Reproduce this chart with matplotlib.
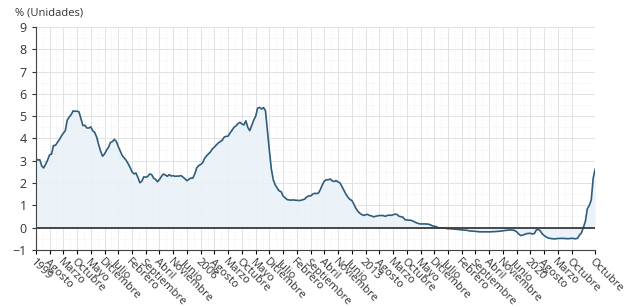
import numpy as np
import matplotlib
matplotlib.use("Agg")
import matplotlib.pyplot as plt
from matplotlib.ticker import MultipleLocator

plt.rcParams['font.family'] = ['Open Sans', 'DejaVu Sans']

# Euribor 12 meses, media mensual, enero 1999 - octubre 2022 (%)
valores = [
    3.095, 3.033, 3.047, 2.768, 2.678, 2.843, 3.036, 3.264, 3.299, 3.684, 3.689, 3.826,  # 1999
    3.948, 4.108, 4.236, 4.347, 4.824, 4.961, 5.065, 5.239, 5.219, 5.224, 5.193, 4.881,  # 2000
    4.574, 4.593, 4.470, 4.467, 4.521, 4.340, 4.273, 4.058, 3.722, 3.433, 3.203, 3.304,  # 2001
    3.475, 3.598, 3.818, 3.859, 3.960, 3.868, 3.637, 3.441, 3.236, 3.126, 3.022, 2.872,  # 2002
    2.705, 2.504, 2.411, 2.447, 2.252, 2.014, 2.080, 2.279, 2.258, 2.295, 2.406, 2.381,  # 2003
    2.218, 2.163, 2.055, 2.163, 2.297, 2.404, 2.361, 2.302, 2.377, 2.316, 2.328, 2.301,  # 2004
    2.312, 2.310, 2.335, 2.265, 2.193, 2.103, 2.168, 2.223, 2.221, 2.414, 2.684, 2.783,  # 2005
    2.833, 2.914, 3.109, 3.221, 3.308, 3.401, 3.539, 3.615, 3.715, 3.799, 3.864, 3.921,  # 2006
    4.064, 4.094, 4.106, 4.253, 4.373, 4.505, 4.564, 4.666, 4.725, 4.647, 4.607, 4.793,  # 2007
    4.498, 4.349, 4.590, 4.820, 4.994, 5.361, 5.393, 5.323, 5.384, 5.248, 4.350, 3.452,  # 2008
    2.622, 2.135, 1.909, 1.771, 1.644, 1.610, 1.412, 1.334, 1.261, 1.243, 1.231, 1.242,  # 2009
    1.232, 1.225, 1.215, 1.225, 1.249, 1.281, 1.373, 1.421, 1.420, 1.495, 1.540, 1.526,  # 2010
    1.550, 1.714, 1.924, 2.086, 2.147, 2.144, 2.183, 2.097, 2.067, 2.110, 2.044, 2.004,  # 2011
    1.837, 1.678, 1.499, 1.368, 1.266, 1.219, 1.061, 0.877, 0.740, 0.650, 0.588, 0.549,  # 2012
    0.575, 0.594, 0.545, 0.528, 0.484, 0.507, 0.525, 0.542, 0.543, 0.541, 0.506, 0.543,  # 2013
    0.562, 0.549, 0.577, 0.604, 0.592, 0.513, 0.488, 0.469, 0.362, 0.338, 0.335, 0.329,  # 2014
    0.298, 0.255, 0.212, 0.180, 0.165, 0.163, 0.167, 0.161, 0.154, 0.128, 0.079, 0.059,  # 2015
    0.042, -0.008, -0.012, -0.010, -0.013, -0.028, -0.056, -0.048, -0.057, -0.069, -0.074, -0.080,  # 2016
    -0.095, -0.106, -0.110, -0.119, -0.127, -0.149, -0.154, -0.156, -0.168, -0.180, -0.189, -0.190,  # 2017
    -0.189, -0.191, -0.191, -0.190, -0.188, -0.181, -0.180, -0.169, -0.166, -0.154, -0.147, -0.129,  # 2018
    -0.116, -0.108, -0.109, -0.112, -0.134, -0.190, -0.283, -0.356, -0.339, -0.304, -0.272, -0.261,  # 2019
    -0.253, -0.288, -0.266, -0.108, -0.081, -0.147, -0.279, -0.358, -0.415, -0.466, -0.481, -0.497,  # 2020
    -0.505, -0.501, -0.487, -0.484, -0.481, -0.484, -0.491, -0.498, -0.492, -0.477, -0.487, -0.502,  # 2021
    -0.477, -0.335, -0.237, 0.013, 0.287, 0.852, 0.992, 1.249, 2.233, 2.629,  # 2022
]

etiquetas = ['1999', 'Agosto', 'Marzo', 'Octubre', 'Mayo', 'Diciembre', 'Julio',
             'Febrero', 'Septiembre', 'Abril', 'Noviembre', 'Junio',
             '2006', 'Agosto', 'Marzo', 'Octubre', 'Mayo', 'Diciembre', 'Julio',
             'Febrero', 'Septiembre', 'Abril', 'Noviembre', 'Junio',
             '2013', 'Agosto', 'Marzo', 'Octubre', 'Mayo', 'Diciembre', 'Julio',
             'Febrero', 'Septiembre', 'Abril', 'Noviembre', 'Junio',
             '2020', 'Agosto', 'Marzo', 'Octubre', 'Octubre']

x = np.arange(len(valores))
y = np.array(valores)
ticks = list(range(0, 274, 7)) + [len(valores) - 1]

fig = plt.figure(figsize=(6.4, 3.07), dpi=100)
ax = fig.add_axes([0.056, 0.186, 0.874, 0.726])

ax.fill_between(x, y, 0, color='#e9f1f8', alpha=0.9, linewidth=0)
ax.plot(x, y, color='#2f5d7c', linewidth=1.2)
ax.axhline(0, color='#3a3a3a', linewidth=1.3)

ax.set_xlim(0, len(valores) - 1)
ax.set_ylim(-1, 9)
ax.set_xticks(ticks)
ax.set_xticklabels(etiquetas, rotation=-45, ha='left', va='top',
                   rotation_mode='anchor', fontsize=8, color='#333333')
ax.set_xticks([t + 3.5 for t in ticks[:-2]], minor=True)
ax.yaxis.set_major_locator(MultipleLocator(1))
ax.yaxis.set_minor_locator(MultipleLocator(0.5))
ax.tick_params(axis='y', labelsize=9, colors='#333333', length=3)
ax.tick_params(axis='x', length=3, pad=2)
ax.tick_params(which='minor', length=0)

ax.grid(True, which='major', color='#e2e2e2', linewidth=0.7)
ax.grid(True, which='minor', color='#ececec', linewidth=0.6, linestyle=':')
ax.set_axisbelow(True)

for s in ['top', 'right']:
    ax.spines[s].set_visible(False)
ax.spines['left'].set_color('#444444')
ax.spines['bottom'].set_color('#444444')
ax.spines['left'].set_linestyle((0, (1, 0.6)))
ax.spines['bottom'].set_linestyle((0, (1, 0.6)))

fig.text(0.023, 0.94, '% (Unidades)', fontsize=8, color='#333333', va='bottom')

fig.savefig('out.png', dpi=100)
